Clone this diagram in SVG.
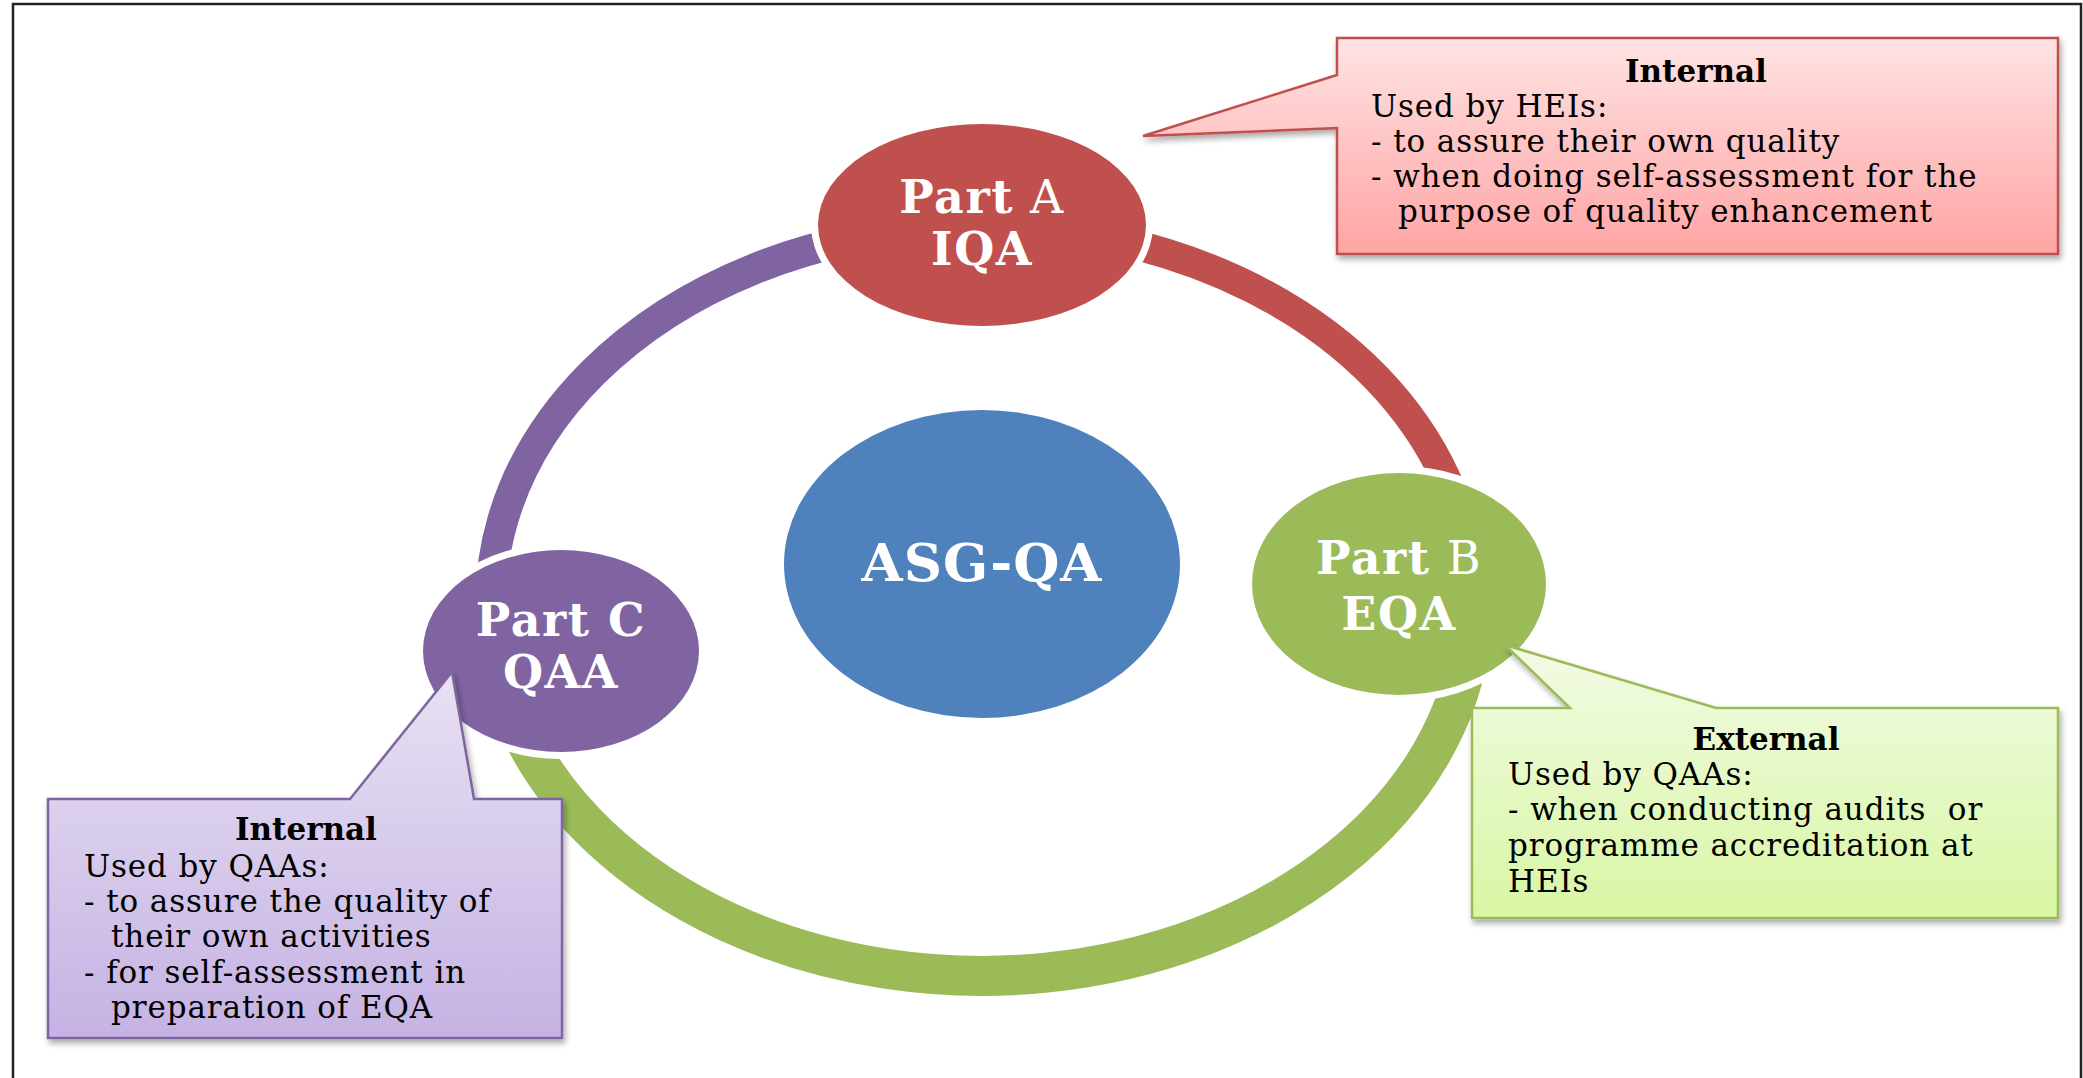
<svg xmlns="http://www.w3.org/2000/svg" width="2083" height="1078" viewBox="0 0 2083 1078">
<defs>
<style>
.lbl{font-family:"DejaVu Serif","Liberation Serif",serif;font-weight:bold;fill:#ffffff;text-anchor:middle}
.lbl .n{font-weight:normal}
.head{font-family:"DejaVu Serif","Liberation Serif",serif;font-weight:bold;font-size:31px;fill:#000;text-anchor:middle}
.body{font-family:"DejaVu Serif","Liberation Serif",serif;font-size:31px;fill:#000;letter-spacing:0.9px;white-space:pre}
.ring{fill:none}
.gap{fill:#ffffff}
</style>
<linearGradient id="gRed" x1="0" y1="0" x2="0" y2="1">
<stop offset="0" stop-color="#FFE3E3"/><stop offset="1" stop-color="#FFA4A4"/>
</linearGradient>
<linearGradient id="gGreen" x1="0" y1="0" x2="0" y2="1">
<stop offset="0" stop-color="#F2FBE4"/><stop offset="1" stop-color="#D8F6A4"/>
</linearGradient>
<linearGradient id="gPurple" x1="0" y1="0" x2="0" y2="1">
<stop offset="0" stop-color="#E8E1F3"/><stop offset="1" stop-color="#C5B2E3"/>
</linearGradient>
<filter id="sh" x="-10%" y="-10%" width="120%" height="130%">
<feGaussianBlur in="SourceAlpha" stdDeviation="3"/>
<feOffset dx="2" dy="4" result="b"/>
<feComponentTransfer><feFuncA type="linear" slope="0.35"/></feComponentTransfer>
<feMerge><feMergeNode/><feMergeNode in="SourceGraphic"/></feMerge>
</filter>
</defs>
<rect x="0" y="0" width="2083" height="1078" fill="#ffffff"/>
<g id="frame" fill="none" stroke="#222" stroke-width="2.5">
<path d="M13,1078 V4 H2081 V1078"/>
</g>
<g id="connectors">
<path class="ring" stroke="#8064A2" stroke-width="31" d="M498.5,667.3 A491,376 0 0 1 939.2,227.4"/>
<path class="ring" stroke="#C0504D" stroke-width="30" d="M1024.8,227.4 A491,376 0 0 1 1456.3,504.7"/>
<path class="ring" stroke="#9BBB59" stroke-width="40" d="M1471.1,634.8 A491,373 0 0 1 520.6,730.6"/>
</g>
<g id="node-center">
<ellipse cx="982" cy="564" rx="198" ry="154" fill="#4F81BD"/>
<text class="lbl" x="982" y="581" font-size="53" letter-spacing="1">ASG-QA</text>
</g>
<g id="node-a">
<ellipse class="gap" cx="982" cy="225" rx="171" ry="108"/>
<ellipse cx="982" cy="225" rx="164" ry="101" fill="#C0504D"/>
<text class="lbl" x="982" y="213" font-size="46" letter-spacing="1.5">Part<tspan class="n"> A</tspan></text>
<text class="lbl" x="982" y="265" font-size="46" letter-spacing="1.5">IQA</text>
</g>
<g id="node-b">
<ellipse class="gap" cx="1399" cy="584" rx="154" ry="118"/>
<ellipse cx="1399" cy="584" rx="147" ry="111" fill="#9BBB59"/>
<text class="lbl" x="1399" y="574" font-size="46" letter-spacing="1.5">Part<tspan class="n"> B</tspan></text>
<text class="lbl" x="1399" y="630" font-size="46" letter-spacing="1.5">EQA</text>
</g>
<g id="node-c">
<ellipse class="gap" cx="561" cy="651" rx="145" ry="108"/>
<ellipse cx="561" cy="651" rx="138" ry="101" fill="#8064A2"/>
<text class="lbl" x="561" y="636" font-size="46" letter-spacing="1.5">Part C</text>
<text class="lbl" x="561" y="688" font-size="46" letter-spacing="1.5">QAA</text>
</g>
<g id="callout-a">
<path d="M1337,38 H2058 V254 H1337 V128 L1143,136 L1337,75 Z" fill="url(#gRed)" stroke="#C0504D" stroke-width="2.5" filter="url(#sh)"/>
<text class="head" x="1696" y="82">Internal</text>
<text class="body" x="1371" y="117">Used by HEIs:</text>
<text class="body" x="1371" y="152">- to assure their own quality</text>
<text class="body" x="1371" y="187">- when doing self-assessment for the</text>
<text class="body" x="1398" y="222">purpose of quality enhancement</text>
</g>
<g id="callout-b">
<path d="M1472,708 H1570 L1505,645 L1716,708 H2058 V918 H1472 Z" fill="url(#gGreen)" stroke="#9BBB59" stroke-width="2.5" filter="url(#sh)"/>
<text class="head" x="1766" y="750">External</text>
<text class="body" x="1508" y="785">Used by QAAs:</text>
<text class="body" x="1508" y="820">- when conducting audits  or</text>
<text class="body" x="1508" y="856">programme accreditation at</text>
<text class="body" x="1508" y="892">HEIs</text>
</g>
<g id="callout-c">
<path d="M48,799 H350 L452,672 L474,799 H562 V1038 H48 Z" fill="url(#gPurple)" stroke="#8064A2" stroke-width="2.5" filter="url(#sh)"/>
<text class="head" x="306" y="840">Internal</text>
<text class="body" x="84" y="877">Used by QAAs:</text>
<text class="body" x="84" y="912">- to assure the quality of</text>
<text class="body" x="111" y="947">their own activities</text>
<text class="body" x="84" y="983">- for self-assessment in</text>
<text class="body" x="111" y="1018">preparation of EQA</text>
</g>
</svg>
